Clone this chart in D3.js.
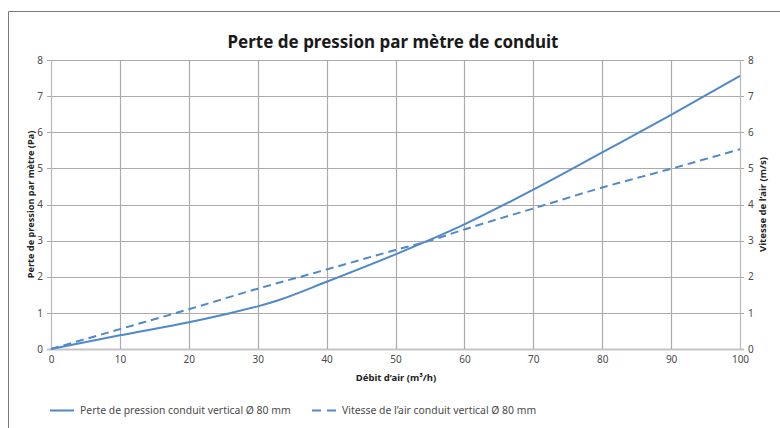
<!DOCTYPE html>
<html>
<head>
<meta charset="utf-8">
<script src="https://cdn.jsdelivr.net/npm/d3@7/dist/d3.min.js"></script>
<style>
  html, body { margin: 0; padding: 0; background: #fff; }
  svg { display: block; }
  text { font-family: "Noto Sans", "DejaVu Sans", sans-serif; }
</style>
</head>
<body>
<svg id="chart" width="780" height="428"></svg>
<script>
// Air flow (m³/h) at which both curves are sampled
const flowPressure = [0, 10, 20, 25, 30, 33, 40, 50, 60, 70, 80, 90, 100];
const pressureLoss = [0, 0.38, 0.74, 0.95, 1.18, 1.35, 1.86, 2.62, 3.45, 4.41, 5.44, 6.48, 7.56];

const flowVelocity = [0, 10, 20, 30, 40, 50, 55, 60, 70, 80, 90, 100];
const airVelocity = [0, 0.55, 1.1, 1.67, 2.2, 2.74, 3.0, 3.31, 3.89, 4.47, 4.99, 5.53];

const xTicks = [0, 10, 20, 30, 40, 50, 60, 70, 80, 90, 100];
const yTicks = [0, 1, 2, 3, 4, 5, 6, 7, 8];

const titleText = "Perte de pression par mètre de conduit";
const xTitle = "Débit d’air (m³/h)";
const yLeftTitle = "Perte de pression par mètre (Pa)";
const yRightTitle = "Vitesse de l’air (m/s)";
const legendLabels = [
  "Perte de pression conduit vertical Ø 80 mm",
  "Vitesse de l’air conduit vertical Ø 80 mm"
];

const lineColor = "#4f89c9";
const gridColor = "#ababab";
const textColor = "#4a4a4a";

const svg = d3.select("#chart");
const plot = { left: 51, right: 740, top: 60, bottom: 349 };

const x = d3.scaleLinear().domain([0, 100]).range([plot.left, plot.right]);
const yL = d3.scaleLinear().domain([0, 8]).range([plot.bottom, plot.top]);
const yR = d3.scaleLinear().domain([0, 8]).range([plot.bottom, plot.top]);

// Outer frame (top and left edges visible)
svg.append("path")
  .attr("d", "M8.5,428 V11.5 H780")
  .attr("fill", "none")
  .attr("stroke", "#7a7a7a")
  .attr("stroke-width", 1);

// Title
svg.append("text")
  .attr("x", 393).attr("y", 48)
  .attr("text-anchor", "middle")
  .attr("font-size", 17)
  .attr("font-weight", "bold")
  .attr("fill", "#1a1a1a")
  .text(titleText);

// Horizontal grid lines
svg.append("g")
  .selectAll("line")
  .data(yTicks)
  .join("line")
  .attr("x1", plot.left - 4).attr("x2", plot.right + 4)
  .attr("y1", d => Math.round(yL(d)) + 0.5).attr("y2", d => Math.round(yL(d)) + 0.5)
  .attr("stroke", d => d === 0 ? "#c4c4c4" : gridColor)
  .attr("stroke-width", d => d === 0 ? 2 : 1.2);

// Vertical grid lines
svg.append("g")
  .selectAll("line")
  .data(xTicks)
  .join("line")
  .attr("x1", d => Math.round(x(d)) + 0.5).attr("x2", d => Math.round(x(d)) + 0.5)
  .attr("y1", plot.top).attr("y2", plot.bottom)
  .attr("stroke", d => (d === 0 || d === 100) ? "#b8b8b8" : gridColor)
  .attr("stroke-width", 1.2);

// Axes (labels only; lines drawn by the grid)
const axisLeft = d3.axisLeft(yL).tickValues(yTicks).tickSize(0).tickPadding(6);
const axisRight = d3.axisRight(yR).tickValues(yTicks).tickSize(0).tickPadding(6);
const axisBottom = d3.axisBottom(x).tickValues(xTicks).tickSize(0).tickPadding(7);

function styleAxis(g) {
  g.select(".domain").remove();
  g.selectAll("text")
    .attr("font-size", 10)
    .attr("fill", textColor)
    .style("font-family", "\"Noto Sans\", sans-serif");
}

svg.append("g").attr("transform", `translate(${plot.left - 2},0)`).call(axisLeft).call(styleAxis);
svg.append("g").attr("transform", `translate(${plot.right + 2},0)`).call(axisRight).call(styleAxis);
svg.append("g").attr("transform", `translate(0,${plot.bottom})`).call(axisBottom).call(styleAxis);

// Axis titles
svg.append("text")
  .attr("x", 396).attr("y", 381)
  .attr("text-anchor", "middle")
  .attr("font-size", 9.5).attr("font-weight", "bold").attr("fill", "#222")
  .text(xTitle);

svg.append("text")
  .attr("transform", `translate(34,${(plot.top + plot.bottom) / 2}) rotate(-90)`)
  .attr("text-anchor", "middle")
  .attr("font-size", 9.2).attr("font-weight", "bold").attr("fill", "#222")
  .text(yLeftTitle);

svg.append("text")
  .attr("transform", `translate(766,${(plot.top + plot.bottom) / 2}) rotate(-90)`)
  .attr("text-anchor", "middle")
  .attr("font-size", 9.5).attr("font-weight", "bold").attr("fill", "#222")
  .text(yRightTitle);

// Curves
const pressureLine = d3.line()
  .x((d, i) => x(flowPressure[i]))
  .y(d => yL(d))
  .curve(d3.curveMonotoneX);

const velocityLine = d3.line()
  .x((d, i) => x(flowVelocity[i]))
  .y(d => yR(d))
  .curve(d3.curveMonotoneX);

svg.append("path")
  .datum(pressureLoss)
  .attr("d", pressureLine)
  .attr("fill", "none")
  .attr("stroke", lineColor)
  .attr("stroke-width", 2);

svg.append("path")
  .datum(airVelocity)
  .attr("d", velocityLine)
  .attr("fill", "none")
  .attr("stroke", lineColor)
  .attr("stroke-width", 2)
  .attr("stroke-dasharray", "8,5");

// Legend
const legend = svg.append("g").attr("transform", "translate(0,410)");
const legendItems = [
  { x: 50, label: legendLabels[0], dash: null },
  { x: 312, label: legendLabels[1], dash: "9,6" }
];
legendItems.forEach(item => {
  legend.append("line")
    .attr("x1", item.x).attr("x2", item.x + 24)
    .attr("y1", 0.5).attr("y2", 0.5)
    .attr("stroke", lineColor).attr("stroke-width", 2)
    .attr("stroke-dasharray", item.dash);
  legend.append("text")
    .attr("x", item.x + 30).attr("y", 4)
    .attr("font-size", 10.4).attr("fill", textColor)
    .text(item.label);
});
</script>
</body>
</html>
